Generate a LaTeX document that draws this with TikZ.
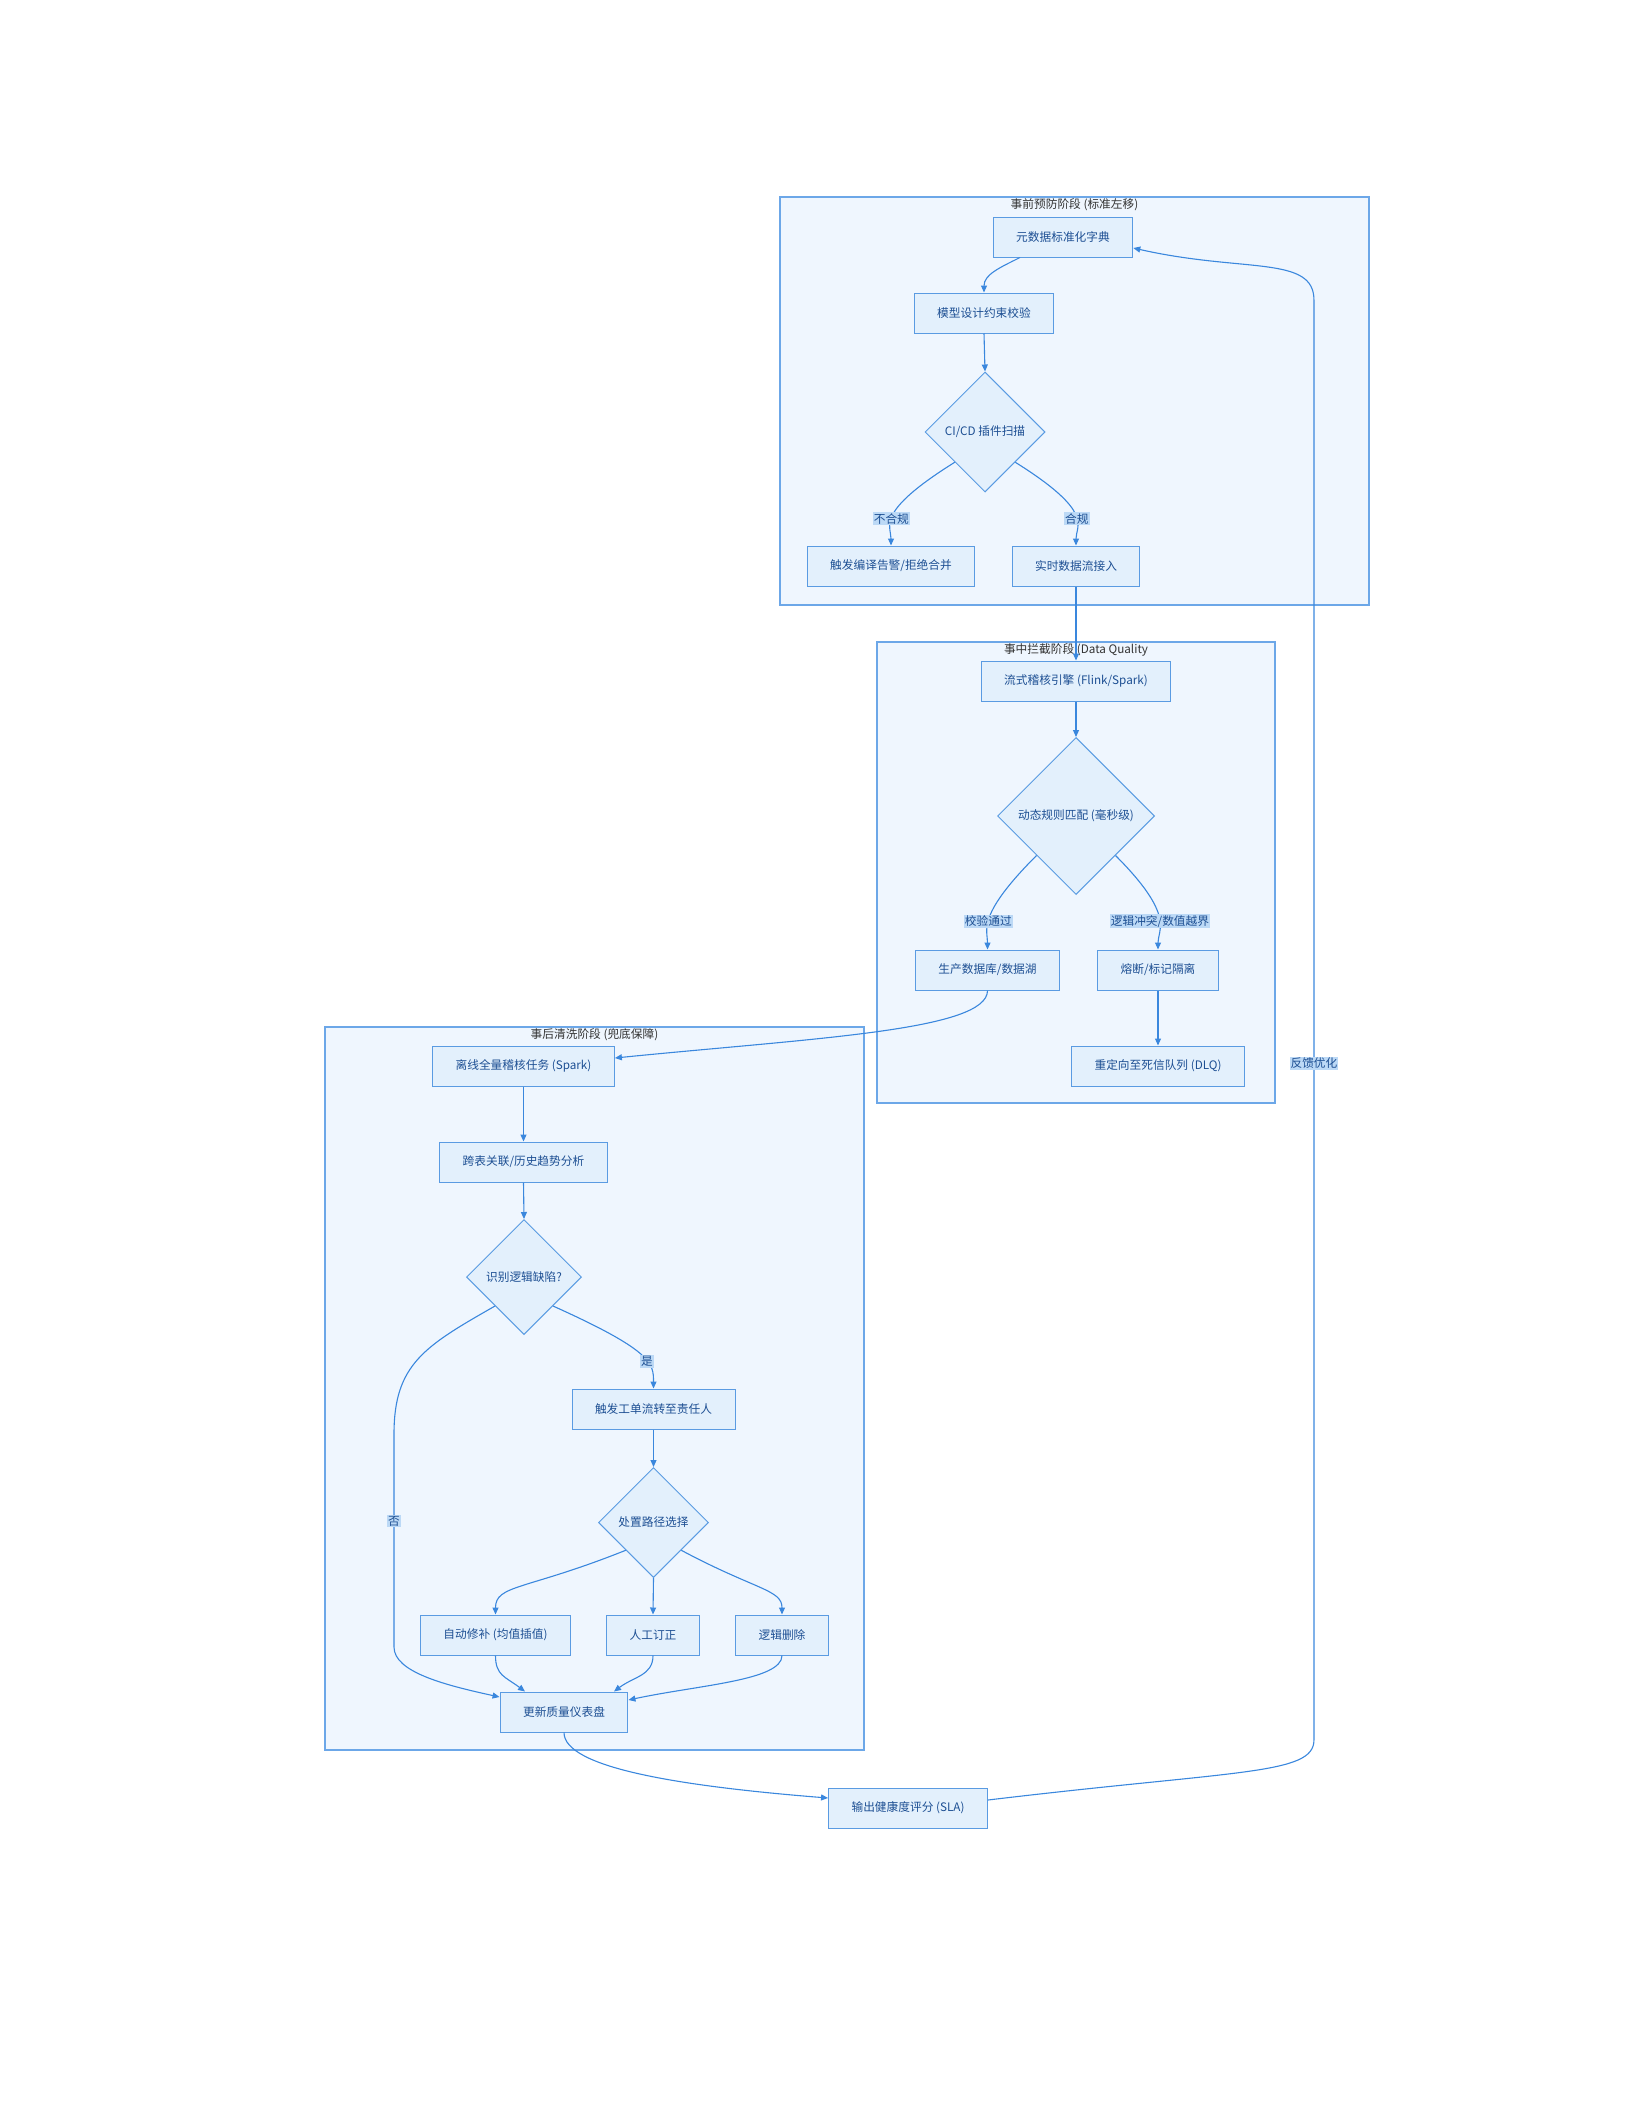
\documentclass[tikz,border=0pt]{standalone}
\usepackage{fontspec}
\setmainfont{Noto Sans CJK SC}
\usepackage{xcolor}
\usepackage{tikz}
\usetikzlibrary{shapes.geometric,arrows.meta}
\definecolor{phasefill}{HTML}{EFF6FE}
\definecolor{phaseline}{HTML}{6CA7E8}
\definecolor{boxfill}{HTML}{E3F0FC}
\definecolor{boxline}{HTML}{5A9BE2}
\definecolor{boxtext}{HTML}{1D4F93}
\definecolor{edgeline}{HTML}{3A87DD}
\definecolor{lblfill}{HTML}{BCD9F6}

\begin{document}
\begin{tikzpicture}[x=1pt, y=-1pt,
  every node/.style={font=\fontsize{11.7}{14}\selectfont},
  phase/.style={rectangle, draw=phaseline, fill=phasefill, line width=1.2pt},
  ptitle/.style={anchor=north, text=black!80, inner sep=1.5pt},
  var/.style={rectangle, draw=boxline, fill=boxfill, line width=1pt, text=boxtext,
    minimum height=40pt, inner xsep=23pt},
  dec/.style={diamond, aspect=1, draw=boxline, fill=boxfill, line width=1pt,
    text=boxtext, inner sep=0pt},
  lbl/.style={fill=lblfill, text=boxtext, inner sep=1pt},
  a/.style={-{Triangle[length=7pt,width=6pt]}, draw=edgeline, line width=1.1pt}
]
\useasboundingbox (0,0) rectangle (1632,2112);

\node[phase, minimum width=589pt, minimum height=408pt] (pre) at (1074.5,401) {};
\node[phase, minimum width=398pt, minimum height=461pt] (mid) at (1076,872.5) {};
\node[phase, minimum width=539pt, minimum height=723pt] (post) at (594.5,1388.5) {};
\node[ptitle] (pret) at (pre.north) {事前预防阶段 (标准左移)};
\node[ptitle] (midt) at (mid.north) {事中拦截阶段 (Data Quality};
\node[ptitle] (postt) at (post.north) {事后清洗阶段 (兜底保障)};

\node[var] (dict) at (1063,237) {元数据标准化字典};
\node[var] (model) at (984,313) {模型设计约束校验};
\node[dec, minimum size=120pt] (cicd) at (985,432) {CI/CD 插件扫描};
\node[var] (warn) at (891,566) {触发编译告警/拒绝合并};
\node[var] (stream) at (1076,566) {实时数据流接入};

\node[var] (engine) at (1076,681) {流式稽核引擎 (Flink/Spark)};
\node[dec, minimum size=157pt] (rule) at (1076,816) {动态规则匹配 (毫秒级)};
\node[var] (prod) at (987.5,970) {生产数据库/数据湖};
\node[var] (fuse) at (1158,970) {熔断/标记隔离};
\node[var] (dlq) at (1158,1066) {重定向至死信队列 (DLQ)};

\node[var] (offline) at (523.5,1066) {离线全量稽核任务 (Spark)};
\node[var] (cross) at (523.5,1162) {跨表关联/历史趋势分析};
\node[dec, minimum size=115pt] (defect) at (524,1277) {识别逻辑缺陷?};
\node[var] (ticket) at (653.5,1409) {触发工单流转至责任人};
\node[dec, minimum size=110pt] (route) at (653.5,1522.5) {处置路径选择};
\node[var] (auto) at (495.5,1635) {自动修补 (均值插值)};
\node[var] (manual) at (653,1635) {人工订正};
\node[var] (delete) at (782,1635) {逻辑删除};
\node[var] (dash) at (564,1712) {更新质量仪表盘};
\node[var] (sla) at (908,1808) {输出健康度评分 (SLA)};

\draw[a] ([xshift=-43pt]dict.south) .. controls +(-20,10) and +(0,-18) .. (model.north);
\draw[a] (model.south) -- (cicd.north);
\draw[a] (cicd.south west) .. controls +(-80,50) and +(0,-20) .. node[lbl, pos=0.55] {不合规} (warn.north);
\draw[a] (cicd.south east) .. controls +(80,50) and +(0,-20) .. node[lbl, pos=0.55] {合规} (stream.north);
\draw[a] (stream.south) -- (engine.north);

\draw[a] (engine.south) -- (rule.north);
\draw[a] (rule.south west) .. controls +(-60,60) and +(0,-20) .. node[lbl, pos=0.55] {校验通过} (prod.north);
\draw[a] (rule.south east) .. controls +(60,60) and +(0,-20) .. node[lbl, pos=0.55] {逻辑冲突/数值越界} (fuse.north);
\draw[a] (fuse.south) -- (dlq.north);
\draw[a] (prod.south) .. controls +(0,40) and +(200,-20) .. ([yshift=8pt]offline.east);

\draw[a] (offline.south) -- (cross.north);
\draw[a] (cross.south) -- (defect.north);
\draw[a] (defect.south east) .. controls +(100,45) and +(0,-25) .. node[lbl, pos=0.6] {是} (ticket.north);
\draw[a] (defect.south west) .. controls +(-70,40) and +(0,-70) .. ++(-101,128)
  -- node[lbl, pos=0.41] {否} ++(0,213)
  .. controls +(0,25) and +(-55,-12) .. ([yshift=15pt]dash.west);
\draw[a] (ticket.south) -- (route.north);
\draw[a] (route.south west) .. controls +(-100,40) and +(0,-30) .. (auto.north);
\draw[a] (route.south) -- (manual.north);
\draw[a] (route.south east) .. controls +(75,40) and +(0,-25) .. (delete.north);
\draw[a] (auto.south) .. controls +(0,20) and +(-20,-15) .. ([xshift=-39pt]dash.north);
\draw[a] (manual.south) .. controls +(0,20) and +(20,-15) .. ([xshift=50pt]dash.north);
\draw[a] (delete.south) .. controls +(0,25) and +(70,-15) .. ([yshift=12pt]dash.east);
\draw[a] (dash.south) .. controls +(0,35) and +(-150,-12) .. ([yshift=10pt]sla.west);

\draw[a] ([yshift=8pt]sla.east) .. controls +(250,-30) and +(0,35) .. ++(326,-60)
  -- node[lbl, pos=0.47] {反馈优化} ++(0,-1440)
  .. controls +(0,-45) and +(110,25) .. ([yshift=-11pt]dict.east);
\end{tikzpicture}
\end{document}
